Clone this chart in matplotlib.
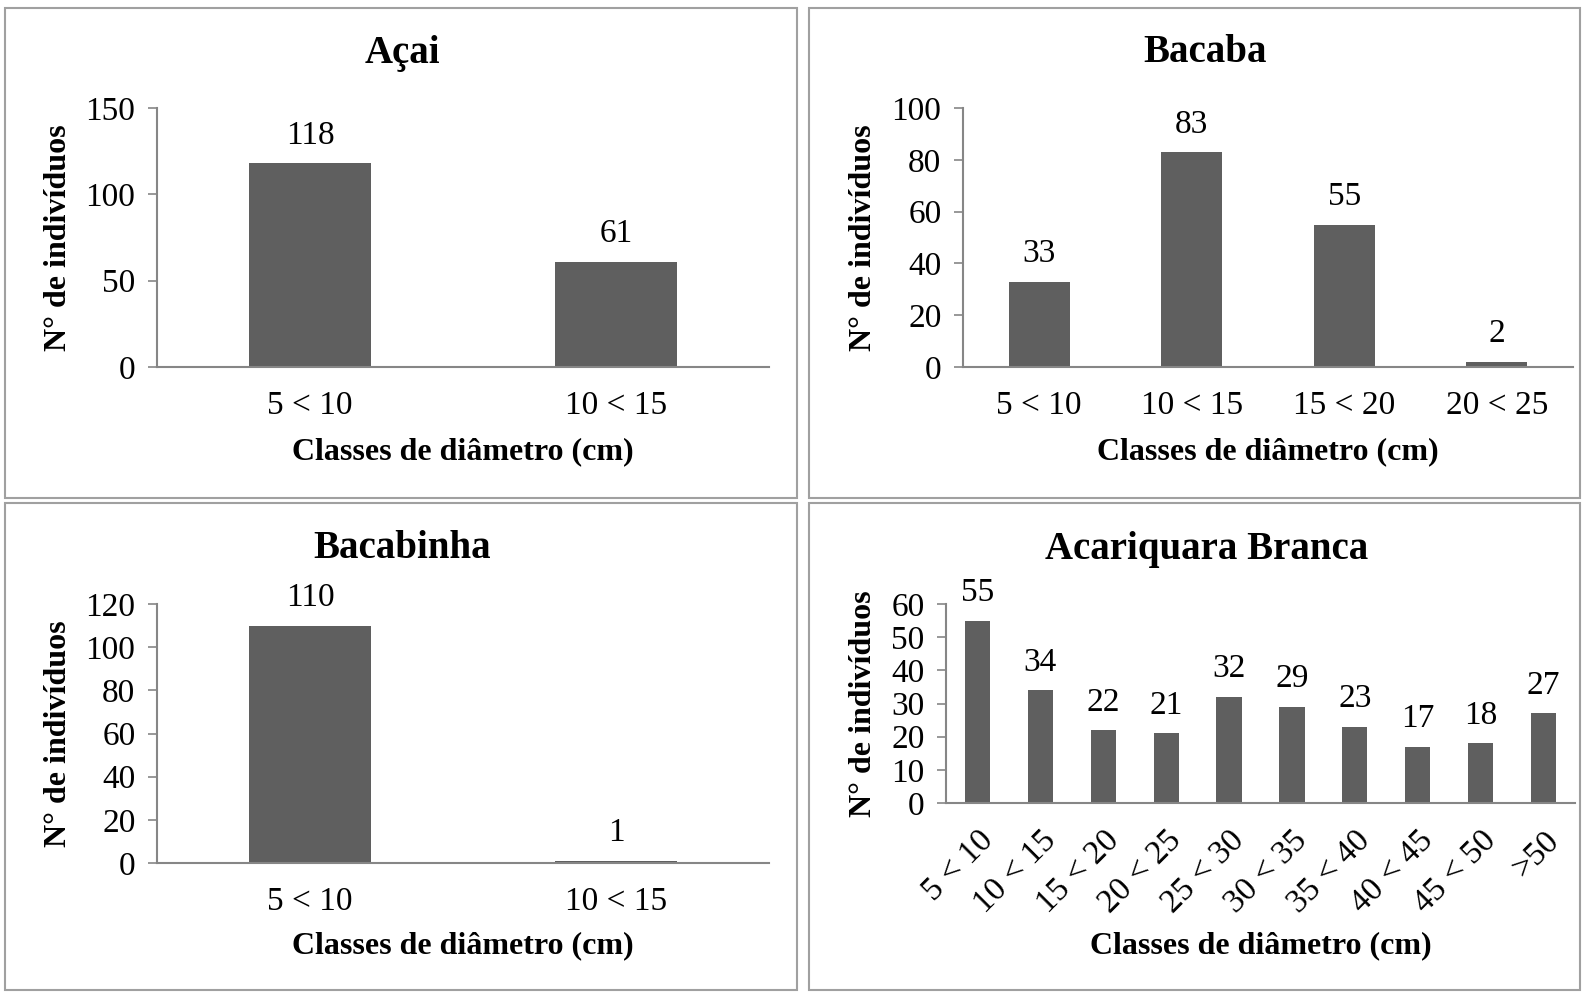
import matplotlib.pyplot as plt
from matplotlib.patches import Rectangle
from matplotlib.transforms import ScaledTranslation

plt.rcParams['font.family'] = ['Liberation Serif', 'DejaVu Serif']

W, H = 1584, 992

acai_classes = ['5 < 10', '10 < 15']
acai_counts = [118, 61]

bacaba_classes = ['5 < 10', '10 < 15', '15 < 20', '20 < 25']
bacaba_counts = [33, 83, 55, 2]

bacabinha_classes = ['5 < 10', '10 < 15']
bacabinha_counts = [110, 1]

acariquara_classes = ['5 < 10', '10 < 15', '15 < 20', '20 < 25', '25 < 30',
                      '30 < 35', '35 < 40', '40 < 45', '45 < 50', '>50']
acariquara_counts = [55, 34, 22, 21, 32, 29, 23, 17, 18, 27]

BAR = '#5f5f5f'
AXC = '#868686'


def px_axes(fig, left, right, top, bottom):
    return fig.add_axes([left / W, 1 - bottom / H, (right - left) / W, (bottom - top) / H])


def draw_panel(fig, box, ax_px, title, title_xy, classes, counts, ymax, ystep,
               ylabel_x, xlabel_y, rotate=False):
    # moldura da célula
    x0, y0, x1, y1 = box
    fig.patches.append(Rectangle((x0 / W, 1 - y1 / H), (x1 - x0) / W, (y1 - y0) / H,
                                 transform=fig.transFigure, fill=False,
                                 edgecolor='#a0a0a0', linewidth=1.5))
    ax = px_axes(fig, *ax_px)
    x = range(len(classes))
    bars = ax.bar(x, counts, width=0.4, color=BAR)
    for b, v in zip(bars, counts):
        ax.annotate(str(v), (b.get_x() + b.get_width() / 2, v), xytext=(0, 9),
                    textcoords='offset points', ha='center', va='bottom', fontsize=24)
    ax.set_xlim(-0.5, len(classes) - 0.5)
    ax.set_ylim(0, ymax)
    ax.set_yticks(range(0, ymax + 1, ystep))
    ax.set_xticks(list(x))
    if rotate:
        ax.set_xticklabels(classes, rotation=45, ha='right', va='top',
                           rotation_mode='anchor', fontsize=24)
        ax.tick_params(axis='x', pad=16)
        shift = ScaledTranslation(4 / 100, 0, fig.dpi_scale_trans)
        for lbl in ax.get_xticklabels():
            lbl.set_transform(lbl.get_transform() + shift)
    else:
        ax.set_xticklabels(classes, fontsize=24)
        ax.tick_params(axis='x', pad=17)
    ax.tick_params(axis='x', length=0)
    ax.tick_params(axis='y', labelsize=24, length=6.5, width=1.2, color=AXC, pad=9)
    for s in ['top', 'right']:
        ax.spines[s].set_visible(False)
    for s in ['left', 'bottom']:
        ax.spines[s].set_color(AXC)
        ax.spines[s].set_linewidth(1.5)
    ax.set_ylabel('N° de indivíduos', fontsize=23, fontweight='bold')
    ax.set_xlabel('Classes de diâmetro (cm)', fontsize=23, fontweight='bold')
    cx = (ax_px[0] + ax_px[1]) / 2
    ax.yaxis.set_label_coords(ylabel_x / W, 1 - (ax_px[2] + ax_px[3]) / 2 / H,
                              transform=fig.transFigure)
    ax.xaxis.set_label_coords(cx / W, 1 - xlabel_y / H, transform=fig.transFigure)
    ax.yaxis.label.set_va('center')
    ax.xaxis.label.set_va('center')
    fig.text(title_xy[0] / W, 1 - title_xy[1] / H, title, ha='center', va='center',
             fontsize=28, fontweight='bold')
    return ax


fig = plt.figure(figsize=(15.84, 9.92), dpi=100)

draw_panel(fig, (5, 8, 797, 498), (157, 769, 108, 367), 'Açai', (402, 53),
           acai_classes, acai_counts, 150, 50, 59, 452)
draw_panel(fig, (809, 8, 1580, 498), (963, 1573, 108, 367), 'Bacaba', (1205, 53),
           bacaba_classes, bacaba_counts, 100, 20, 864, 452)
draw_panel(fig, (5, 503, 797, 990), (157, 769, 604, 863), 'Bacabinha', (402, 549),
           bacabinha_classes, bacabinha_counts, 120, 20, 59, 946)
draw_panel(fig, (809, 503, 1580, 990), (946, 1575, 604, 803), 'Acariquara Branca', (1207, 549),
           acariquara_classes, acariquara_counts, 60, 10, 864, 946, rotate=True)

fig.savefig('out.png', dpi=100)
